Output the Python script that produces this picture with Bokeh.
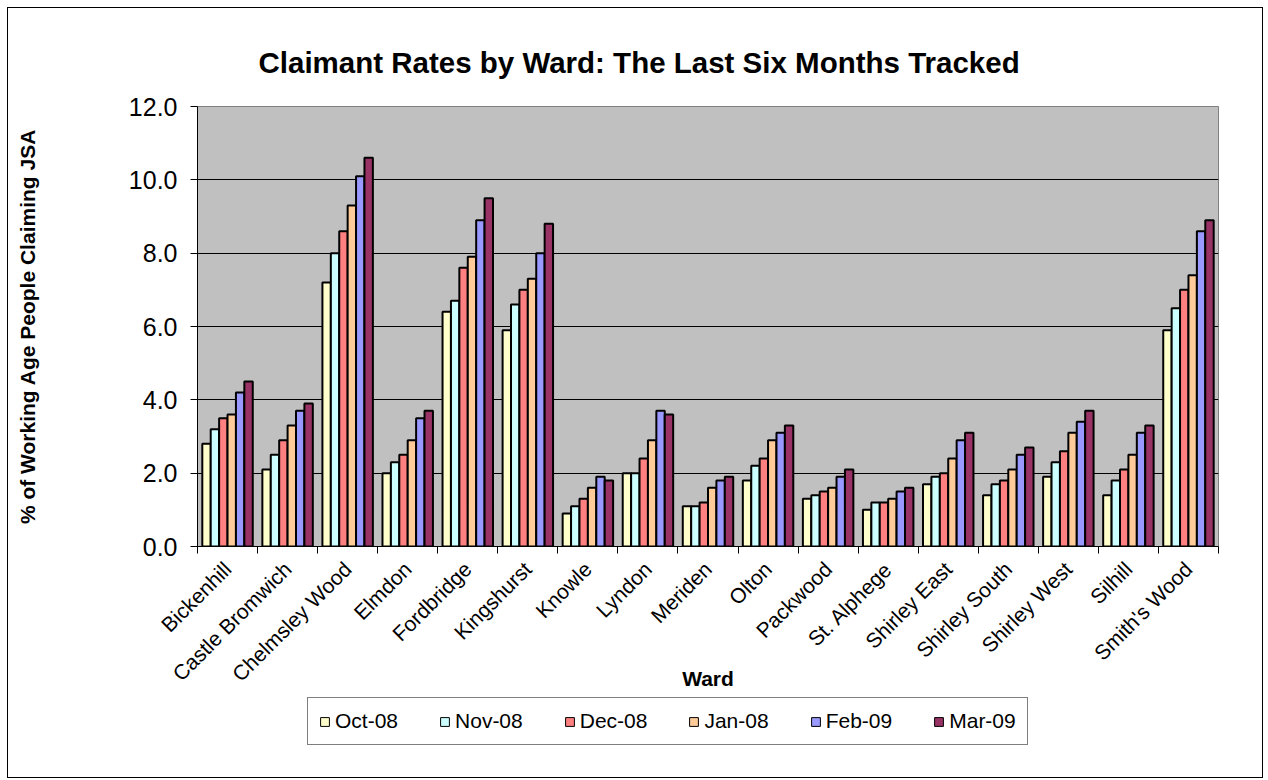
import math
from bokeh.plotting import figure
from bokeh.layouts import column
from bokeh.models import (ColumnDataSource, FixedTicker, Range1d, Title, Legend,
                          LegendItem, NumeralTickFormatter, Grid)
from bokeh.transform import dodge
from bokeh.embed import file_html
from bokeh.resources import INLINE

wards = ["Bickenhill", "Castle Bromwich", "Chelmsley Wood", "Elmdon", "Fordbridge",
         "Kingshurst", "Knowle", "Lyndon", "Meriden", "Olton", "Packwood",
         "St. Alphege", "Shirley East", "Shirley South", "Shirley West", "Silhill",
         "Smith's Wood"]
months = ["Oct-08", "Nov-08", "Dec-08", "Jan-08", "Feb-09", "Mar-09"]

oct08 = [2.8, 2.1, 7.2, 2.0, 6.4, 5.9, 0.9, 2.0, 1.1, 1.8, 1.3, 1.0, 1.7, 1.4, 1.9, 1.4, 5.9]
nov08 = [3.2, 2.5, 8.0, 2.3, 6.7, 6.6, 1.1, 2.0, 1.1, 2.2, 1.4, 1.2, 1.9, 1.7, 2.3, 1.8, 6.5]
dec08 = [3.5, 2.9, 8.6, 2.5, 7.6, 7.0, 1.3, 2.4, 1.2, 2.4, 1.5, 1.2, 2.0, 1.8, 2.6, 2.1, 7.0]
jan08 = [3.6, 3.3, 9.3, 2.9, 7.9, 7.3, 1.6, 2.9, 1.6, 2.9, 1.6, 1.3, 2.4, 2.1, 3.1, 2.5, 7.4]
feb09 = [4.2, 3.7, 10.1, 3.5, 8.9, 8.0, 1.9, 3.7, 1.8, 3.1, 1.9, 1.5, 2.9, 2.5, 3.4, 3.1, 8.6]
mar09 = [4.5, 3.9, 10.6, 3.7, 9.5, 8.8, 1.8, 3.6, 1.9, 3.3, 2.1, 1.6, 3.1, 2.7, 3.7, 3.3, 8.9]

colors = ["#FFFFCC", "#CCFFFF", "#FF8080", "#FFCC99", "#9999FF", "#993366"]
y_ticks = [0, 2, 4, 6, 8, 10, 12]

series = [oct08, nov08, dec08, jan08, feb09, mar09]
keys = ["m%d" % i for i in range(len(months))]
n = len(wards)
data = {"x": list(range(n))}
for k, s in zip(keys, series):
    data[k] = s
src = ColumnDataSource(data)

FONT = "Liberation Sans"
W = 1254

p = figure(width=W, height=684, output_backend="svg", toolbar_location=None,
           x_range=Range1d(-0.5, n - 0.5), y_range=Range1d(0, 12),
           min_border_left=189, min_border_right=44, min_border_top=98,
           min_border_bottom=142)
p.background_fill_color = "#C0C0C0"
p.border_fill_color = "white"
p.outline_line_color = "#808080"
p.xgrid.visible = False
p.ygrid.grid_line_color = "black"
p.ygrid.grid_line_width = 1
p.ygrid.ticker = FixedTicker(ticks=y_ticks)

bw = 0.14
for i, (k, c) in enumerate(zip(keys, colors)):
    off = (i - 2.5) * bw
    p.vbar(x=dodge("x", off, range=p.x_range), top=k, width=bw, source=src,
           fill_color=c, line_color="black", line_width=2)

# title
p.title = Title(text="Claimant Rates by Ward: The Last Six Months Tracked",
                align="left", offset=61, text_font=FONT, text_font_size="29.5px",
                text_font_style="bold", text_color="black", standoff=56)

# y axis
ya = p.yaxis[0]
ya.ticker = FixedTicker(ticks=y_ticks)
ya.formatter = NumeralTickFormatter(format="0.0")
ya.major_label_text_font = FONT
ya.major_label_text_font_size = "25px"
ya.major_label_text_color = "black"
ya.major_tick_out = 7
ya.major_tick_in = 0
ya.minor_tick_line_color = None
ya.axis_line_color = "black"
ya.major_label_standoff = 13
ya.axis_label = "% of Working Age People Claiming JSA"
ya.axis_label_text_font = FONT
ya.axis_label_text_font_size = "21px"
ya.axis_label_text_font_style = "bold"
ya.axis_label_text_color = "black"
ya.axis_label_standoff = 87

# x axis
xa = p.xaxis[0]
xa.ticker = FixedTicker(ticks=list(range(n)), minor_ticks=[i - 0.5 for i in range(n + 1)])
xa.major_label_overrides = {i: w for i, w in enumerate(wards)}
xa.major_label_orientation = math.pi / 4
xa.major_label_text_font = FONT
xa.major_label_text_font_size = "21px"
xa.major_label_text_color = "black"
xa.major_tick_line_color = None
xa.minor_tick_line_color = "black"
xa.minor_tick_out = 7
xa.minor_tick_in = 0
xa.axis_line_color = "black"
xa.major_label_standoff = 12
xa.axis_label = "Ward"
xa.axis_label_text_font = FONT
xa.axis_label_text_font_size = "21px"
xa.axis_label_text_font_style = "bold"
xa.axis_label_text_color = "black"
xa.axis_label_standoff = -30

# legend strip
p2 = figure(width=W, height=85, output_backend="svg", toolbar_location=None,
            x_range=Range1d(0, 1), y_range=Range1d(0, 1), title=None,
            x_axis_location=None, y_axis_location=None, min_border=0)
p2.outline_line_color = None
p2.background_fill_color = "white"
p2.border_fill_color = "white"
for g in list(p2.center):
    if isinstance(g, Grid):
        g.visible = False
leg_renderers = []
for c in colors:
    # hidden swatch-only renderers for the legend strip
    leg_renderers.append(p2.vbar(x=[-5], top=[0], width=0.1, fill_color=c,
                                 line_color="black", line_width=1, visible=False))

legend = Legend(items=[LegendItem(label=m, renderers=[r]) for m, r in zip(months, leg_renderers)],
                orientation="horizontal", location=(110, 32))
legend.label_text_font = FONT
legend.label_text_font_size = "21px"
legend.label_text_color = "black"
legend.glyph_width = 11
legend.glyph_height = 11
legend.label_standoff = 5
legend.spacing = 41
legend.padding = 11
legend.margin = 0
legend.border_line_color = "black"
legend.border_line_width = 1
legend.background_fill_color = "white"
legend.background_fill_alpha = 1
legend.inactive_fill_alpha = 0
p2.add_layout(legend)

layout = column(p, p2, spacing=0,
                styles={"border": "1px solid black", "margin-left": "7px", "margin-top": "7px"})

open("out.html", "w").write(file_html(layout, INLINE))
